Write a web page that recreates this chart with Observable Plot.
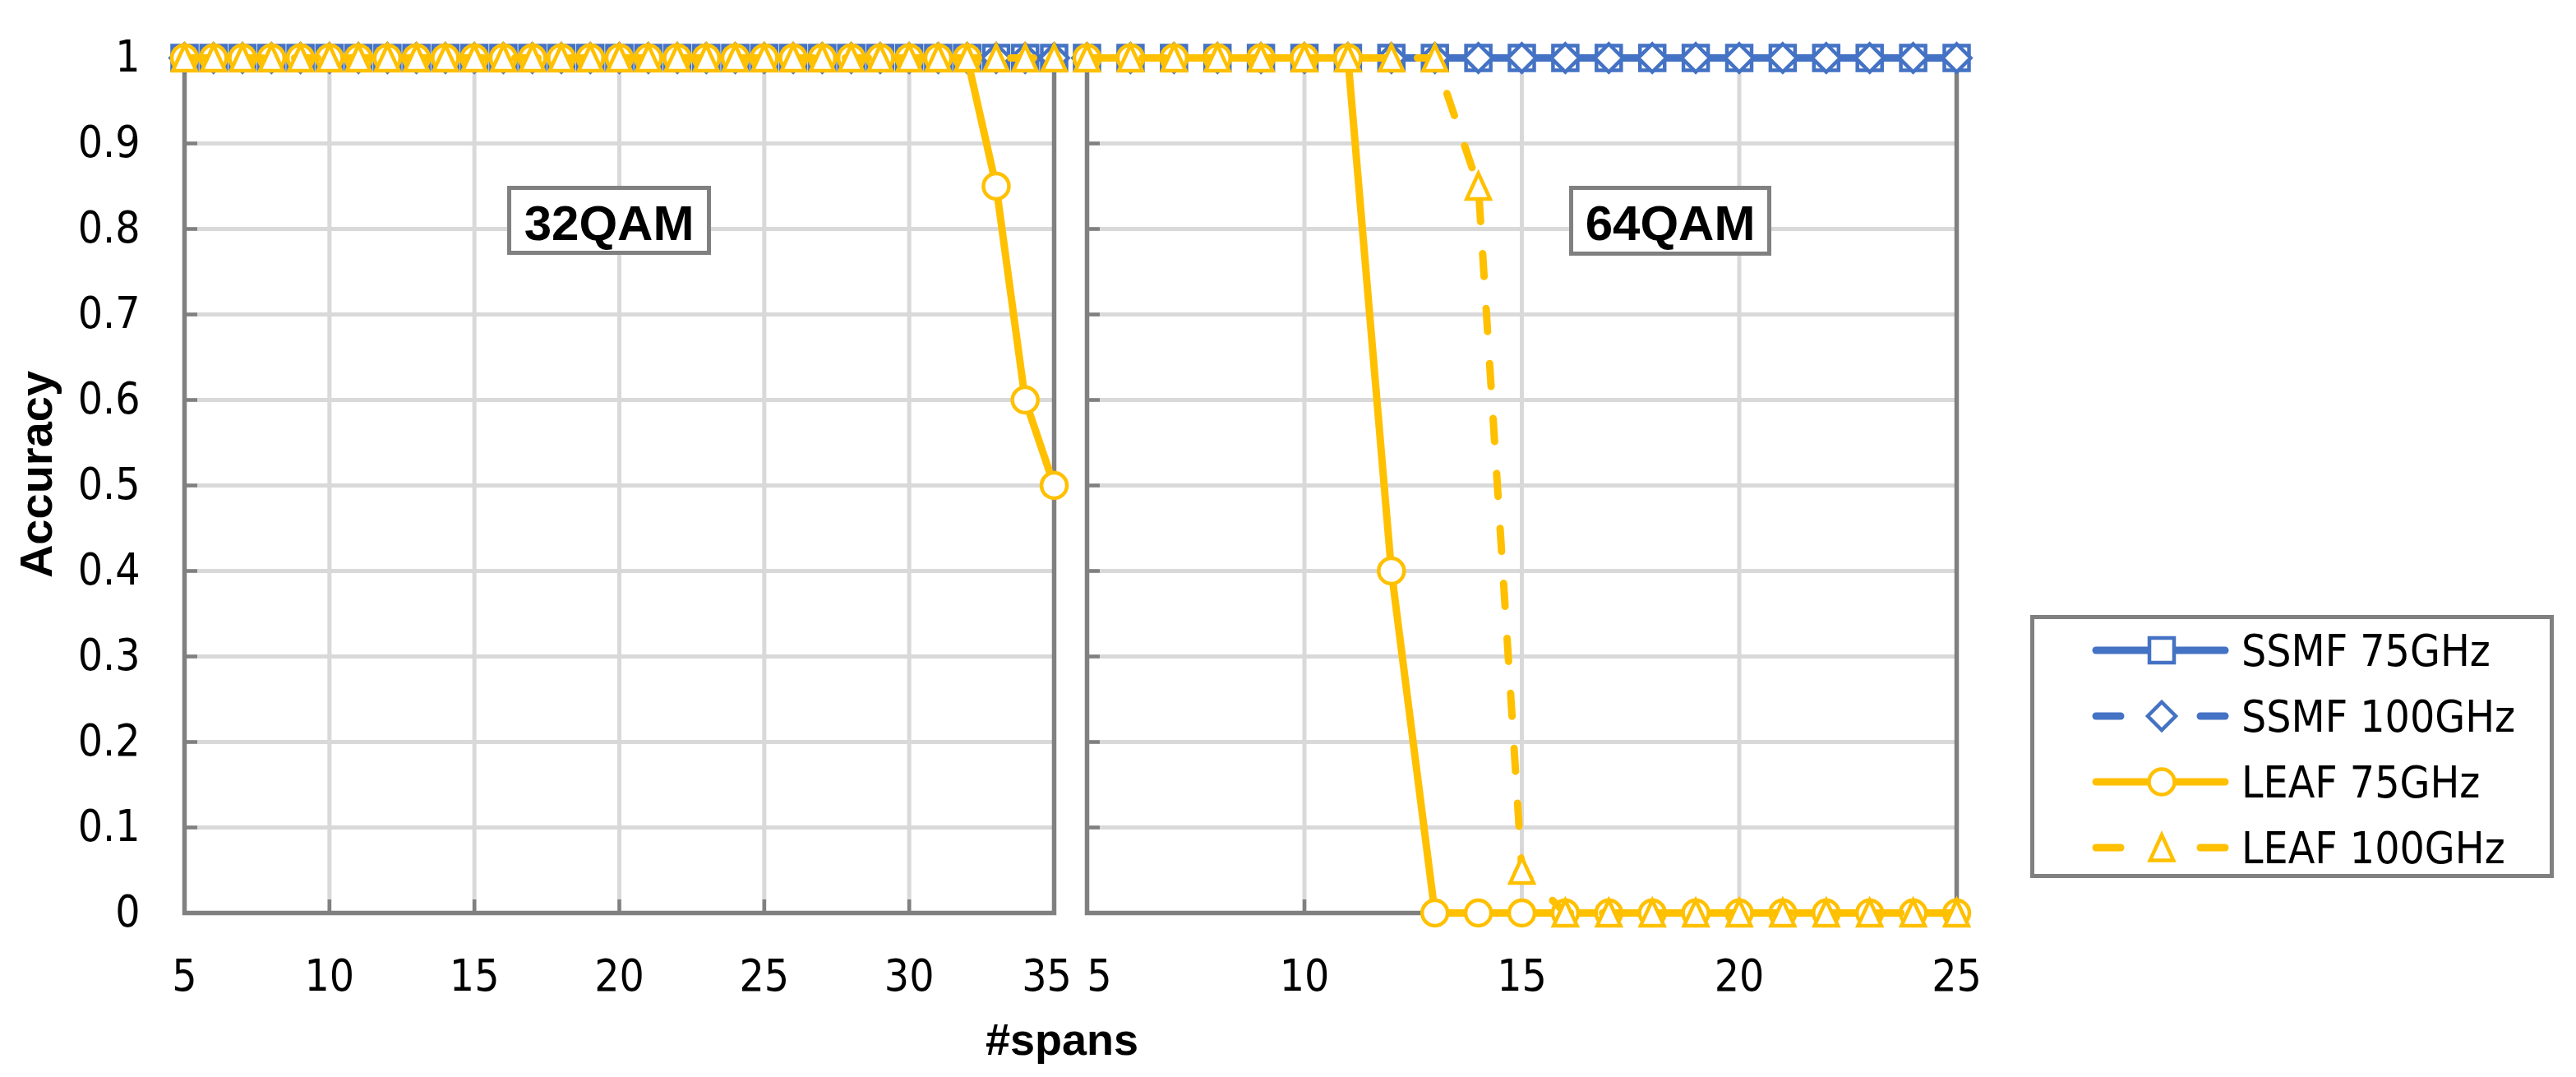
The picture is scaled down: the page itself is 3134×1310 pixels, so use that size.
<!DOCTYPE html>
<html><head><meta charset="utf-8">
<script src="https://cdn.jsdelivr.net/npm/d3@7"></script>
<script src="https://cdn.jsdelivr.net/npm/@observablehq/plot@0.6"></script>
<style>
html,body{margin:0;padding:0;background:#fff;}
#root{position:relative;width:3134px;height:1310px;overflow:hidden;background:#fff;}
#root svg{position:absolute;overflow:visible;}
</style></head><body><div id="root"></div>
<script>
// ---------- data ----------
const seriesNames = ["SSMF 75GHz", "SSMF 100GHz", "LEAF 75GHz", "LEAF 100GHz"];
const panelNames = ["32QAM", "64QAM"];

const spans32 = [5,6,7,8,9,10,11,12,13,14,15,16,17,18,19,20,21,22,23,24,25,26,27,28,29,30,31,32,33,34,35];
const ssmf75_32  = [1,1,1,1,1,1,1,1,1,1,1,1,1,1,1,1,1,1,1,1,1,1,1,1,1,1,1,1,1,1,1];
const ssmf100_32 = [1,1,1,1,1,1,1,1,1,1,1,1,1,1,1,1,1,1,1,1,1,1,1,1,1,1,1,1,1,1,1];
const leaf75_32  = [1,1,1,1,1,1,1,1,1,1,1,1,1,1,1,1,1,1,1,1,1,1,1,1,1,1,1,1,0.85,0.6,0.5];
const leaf100_32 = [1,1,1,1,1,1,1,1,1,1,1,1,1,1,1,1,1,1,1,1,1,1,1,1,1,1,1,1,1,1,1];

const spans64 = [5,6,7,8,9,10,11,12,13,14,15,16,17,18,19,20,21,22,23,24,25];
const ssmf75_64  = [1,1,1,1,1,1,1,1,1,1,1,1,1,1,1,1,1,1,1,1,1];
const ssmf100_64 = [1,1,1,1,1,1,1,1,1,1,1,1,1,1,1,1,1,1,1,1,1];
const leaf75_64  = [1,1,1,1,1,1,1,0.4,0,0,0,0,0,0,0,0,0,0,0,0,0];
const leaf100_64 = [1,1,1,1,1,1,1,1,1,0.85,0.05,0,0,0,0,0,0,0,0,0,0];

const xTicks32 = [5,10,15,20,25,30,35];
const xGrid32 = [10,15,20,25,30];
const xTicks64 = [5,10,15,20,25];
const xGrid64 = [10,15,20];
const yTicks = [0,0.1,0.2,0.3,0.4,0.5,0.6,0.7,0.8,0.9,1];
const yTickLabels = ["0","0.1","0.2","0.3","0.4","0.5","0.6","0.7","0.8","0.9","1"];
const yGrid = [0.1,0.2,0.3,0.4,0.5,0.6,0.7,0.8,0.9,1];
const yInner = [0.1,0.2,0.3,0.4,0.5,0.6,0.7,0.8,0.9];

// ---------- styles ----------
const BLUE = "#4472C4", GOLD = "#FFC000", AXIS = "#808080", GRID = "#D9D9D9";
const FONT = "'Liberation Sans Narrow', 'Arial Narrow', 'DejaVu Sans Condensed', sans-serif";
const FONTB = "'Liberation Sans', Arial, sans-serif";
const seriesColors = [BLUE, BLUE, GOLD, GOLD];
const seriesDashed = [false, true, false, true];

const half = size => Math.sqrt(size / Math.PI);
const symSquare = {draw(c, size){const s = half(size); c.moveTo(-s,-s); c.lineTo(s,-s); c.lineTo(s,s); c.lineTo(-s,s); c.closePath();}};
const symDiamond = {draw(c, size){const s = half(size); c.moveTo(0,-s); c.lineTo(s,0); c.lineTo(0,s); c.lineTo(-s,0); c.closePath();}};
const symCircle = {draw(c, size){const s = half(size); c.moveTo(s,0); c.arc(0,0,s,0,2*Math.PI); c.closePath();}};
const symTriangle = {draw(c, size){const s = half(size); c.moveTo(0,-s); c.lineTo(s*0.92,s); c.lineTo(-s*0.92,s); c.closePath();}};
const seriesSymbols = [symSquare, symDiamond, symCircle, symTriangle];
const seriesR = [15, 17, 15.5, 15.5];
const DASH = "28,39";

const FRAME_H = 1040;

function makePanel({spans, values, domain, ticks, grid, left, width, marginLeft, yLabels, tickDx}) {
  const frameW = width - marginLeft - 20;
  const marks = [
    Plot.ruleY(yGrid, {y: d => d, stroke: GRID, strokeWidth: 5}),
    Plot.ruleX(grid, {x: d => d, stroke: GRID, strokeWidth: 5}),
    Plot.frame({stroke: AXIS, strokeWidth: 5.5}),
    Plot.tickY(yInner, {y: d => d, stroke: AXIS, strokeWidth: 4.5, insetRight: frameW - 16}),
    Plot.tickX(grid, {x: d => d, stroke: AXIS, strokeWidth: 4.5, insetTop: FRAME_H - 16})
  ];
  seriesNames.forEach((name, si) => {
    const d = spans.map((x, i) => ({series: name, x, y: values[si][i]}));
    marks.push(Plot.line(d, {x: "x", y: "y", stroke: seriesColors[si], strokeWidth: 9,
      strokeLinecap: "round", strokeLinejoin: "round",
      strokeDasharray: seriesDashed[si] ? DASH : undefined}));
    marks.push(Plot.dot(d, {x: "x", y: "y", symbol: seriesSymbols[si], r: seriesR[si],
      stroke: seriesColors[si], strokeWidth: 4.5, fill: "white"}));
  });
  // x tick labels (end labels nudged apart as in the original)
  ticks.forEach((t) => {
    marks.push(Plot.text([t], {x: d => d, text: d => String(d), frameAnchor: "bottom", dy: 57,
      dx: tickDx[t] || 0, lineAnchor: "top", fontSize: 53, fontFamily: FONT, fill: "black"}));
  });
  if (yLabels) {
    marks.push(Plot.text(yTicks, {y: d => d, text: (d, i) => yTickLabels[i], frameAnchor: "left",
      dx: -54, textAnchor: "end", lineAnchor: "middle", fontSize: 53, fontFamily: FONT, fill: "black"}));
  }
  const svg = Plot.plot({
    width, height: 1310,
    marginTop: 70, marginBottom: 200, marginLeft, marginRight: 20,
    x: {domain, axis: null},
    y: {domain: [0, 1], axis: null},
    style: {background: "transparent", overflow: "visible", fontFamily: FONT},
    marks
  });
  svg.style.left = left + "px";
  svg.style.top = "0px";
  return svg;
}

const root = document.getElementById("root");
root.appendChild(makePanel({spans: spans32, values: [ssmf75_32, ssmf100_32, leaf75_32, leaf100_32],
  domain: [5, 35], ticks: xTicks32, grid: xGrid32, left: 0, width: 1302, marginLeft: 224,
  yLabels: true, tickDx: {35: -9}}));
root.appendChild(makePanel({spans: spans64, values: [ssmf75_64, ssmf100_64, leaf75_64, leaf100_64],
  domain: [5, 25], ticks: xTicks64, grid: xGrid64, left: 1290, width: 1110, marginLeft: 32,
  yLabels: false, tickDx: {5: 15}}));

// ---------- overlay: labels, annotations, legend ----------
const ov = d3.create("svg").attr("width", 3134).attr("height", 1310)
  .style("left", "0px").style("top", "0px").style("pointer-events", "none");

ov.append("text").attr("transform", "translate(63,577) rotate(-90)")
  .attr("text-anchor", "middle").attr("font-family", FONTB).attr("font-weight", "bold")
  .attr("font-size", 56).text("Accuracy");
ov.append("text").attr("x", 1292).attr("y", 1283)
  .attr("text-anchor", "middle").attr("font-family", FONTB).attr("font-weight", "bold")
  .attr("font-size", 54).text("#spans");

const annBoxes = [{x: 619.5, y: 228.5, w: 243, h: 79}, {x: 1911.5, y: 228.5, w: 241, h: 80}];
panelNames.forEach((n, i) => {
  const b = annBoxes[i];
  ov.append("rect").attr("x", b.x).attr("y", b.y).attr("width", b.w).attr("height", b.h)
    .attr("fill", "white").attr("stroke", AXIS).attr("stroke-width", 5);
  ov.append("text").attr("x", b.x + b.w / 2).attr("y", 292).attr("text-anchor", "middle")
    .attr("font-family", FONTB).attr("font-weight", "bold").attr("font-size", 60).text(n);
});

// legend
ov.append("rect").attr("x", 2472.5).attr("y", 750.5).attr("width", 632).attr("height", 315)
  .attr("fill", "white").attr("stroke", AXIS).attr("stroke-width", 5);
const rowY = [791, 871, 951, 1031];
seriesNames.forEach((name, si) => {
  const y = rowY[si];
  ov.append("line").attr("x1", 2550).attr("x2", 2707).attr("y1", y).attr("y2", y)
    .attr("stroke", seriesColors[si]).attr("stroke-width", 9).attr("stroke-linecap", "round")
    .attr("stroke-dasharray", seriesDashed[si] ? "30,127" : null);
  if (seriesDashed[si]) {
    ov.append("line").attr("x1", 2677).attr("x2", 2707).attr("y1", y).attr("y2", y)
      .attr("stroke", seriesColors[si]).attr("stroke-width", 9).attr("stroke-linecap", "round");
  }
  const p = d3.path();
  seriesSymbols[si].draw(p, Math.PI * seriesR[si] * seriesR[si]);
  ov.append("path").attr("d", p.toString()).attr("transform", `translate(2630,${y})`)
    .attr("fill", "white").attr("stroke", seriesColors[si]).attr("stroke-width", 4.5);
  ov.append("text").attr("x", 2727).attr("y", y + 19).attr("font-family", FONT)
    .attr("font-size", 53).text(name);
});
root.appendChild(ov.node());
</script></body></html>
